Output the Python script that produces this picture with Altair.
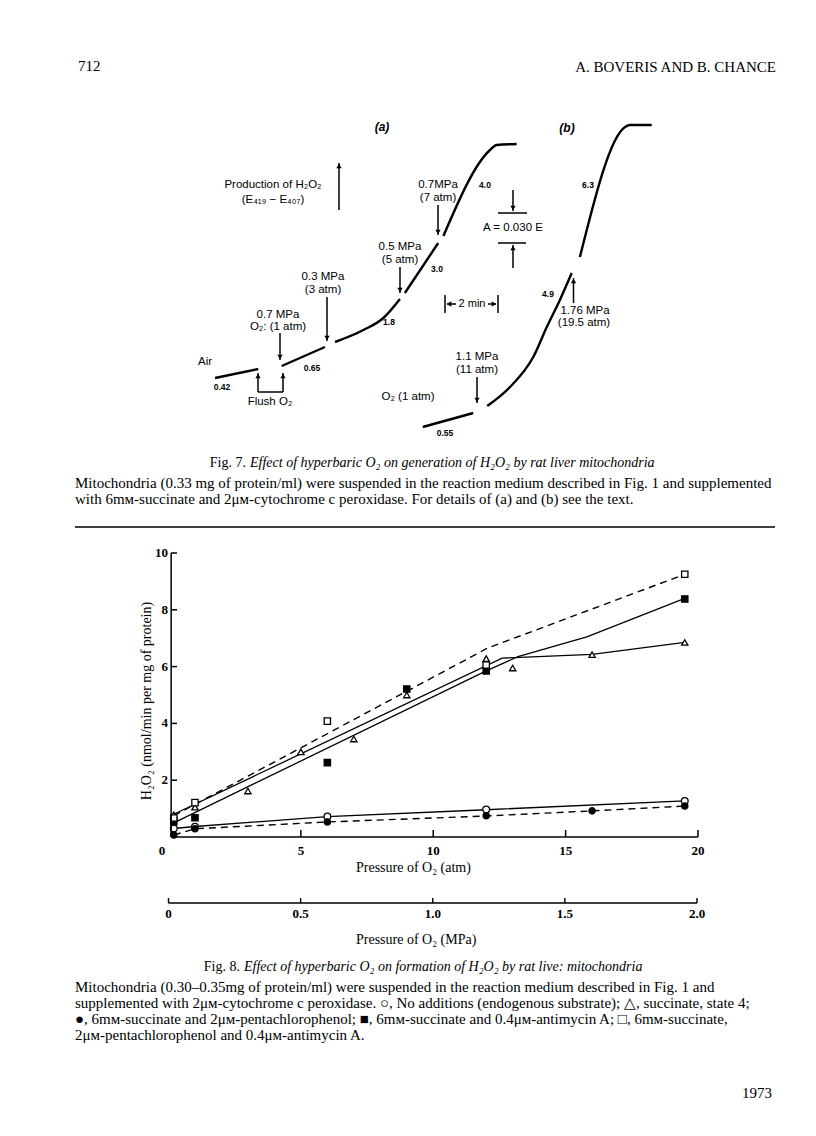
import altair as alt
import pandas as pd

OFF = 8  # page body margin (page px -> chart px)

# ---------------- Fig. 8 data: pressure of O2 (atm) vs H2O2 (nmol/min per mg) -------------
open_circle_x = [0.2, 1.0, 6.0, 12.0, 19.5]
open_circle_y = [0.30, 0.36, 0.72, 0.97, 1.27]
filled_circle_x = [0.2, 1.0, 6.0, 12.0, 16.0, 19.5]
filled_circle_y = [0.07, 0.29, 0.53, 0.75, 0.92, 1.09]
triangle_x = [0.2, 1.0, 3.0, 5.0, 7.0, 9.0, 12.0, 13.0, 16.0, 19.5]
triangle_y = [0.78, 1.05, 1.62, 3.00, 3.45, 5.00, 6.28, 5.95, 6.42, 6.85]
filled_square_x = [0.2, 1.0, 6.0, 9.0, 12.0, 19.5]
filled_square_y = [0.54, 0.68, 2.62, 5.21, 5.85, 8.38]
open_square_x = [0.2, 1.0, 6.0, 12.0, 19.5]
open_square_y = [0.67, 1.21, 4.08, 6.06, 9.25]

# drawn (hand-fitted) lines
line_open_circle_x = [0.2, 1.0, 6.0, 12.0, 19.5]
line_open_circle_y = [0.30, 0.37, 0.72, 0.96, 1.27]
line_filled_circle_x = [0.2, 1.0, 6.0, 12.0, 16.0, 19.5]
line_filled_circle_y = [0.07, 0.29, 0.53, 0.74, 0.92, 1.09]
line_triangle_x = [0.2, 12.6, 16.0, 19.5]
line_triangle_y = [0.80, 6.30, 6.43, 6.85]
line_filled_square_x = [0.2, 12.0, 13.2, 15.8, 17.7, 19.5]
line_filled_square_y = [0.50, 5.85, 6.35, 7.05, 7.74, 8.40]
line_open_square_x = [0.2, 12.05, 19.5]
line_open_square_y = [0.75, 6.65, 9.25]

atm_ticks = [5, 10, 15, 20]
atm_labels = ["5", "10", "15", "20"]
rate_ticks = [2, 4, 6, 8, 10]
rate_labels = ["2", "4", "6", "8", "10"]
mpa_ticks = [0, 0.5, 1.0, 1.5, 2.0]
mpa_labels = ["0", "0.5", "1.0", "1.5", "2.0"]

# ---------------- Fig. 7 traces: time (min) vs E419-E407 (relative) -------------
trace_a1_t = [0.70, 2.71]
trace_a1_e = [0.062, 0.071]
trace_a2_t = [3.80, 5.81]
trace_a2_e = [0.074, 0.093]
trace_a3_t = [6.28, 7.60, 8.53, 9.30]
trace_a3_e = [0.098, 0.110, 0.122, 0.141]
trace_a4_t = [9.53, 11.08]
trace_a4_e = [0.147, 0.197]
trace_a5_t = [11.32, 13.49, 13.80, 14.73]
trace_a5_e = [0.204, 0.290, 0.295, 0.296]
trace_b1_t = [10.36, 12.71]
trace_b1_e = [0.013, 0.027]
trace_b2_t = [13.36, 14.42, 15.50, 16.13, 16.74, 17.29]
trace_b2_e = [0.034, 0.053, 0.083, 0.113, 0.140, 0.167]
trace_b3_t = [17.67, 19.77, 20.00, 21.01]
trace_b3_e = [0.183, 0.313, 0.315, 0.315]

# ---------------- scales (explicit pixel ranges place each figure on the page) -------------
X8 = alt.Scale(domain=[0, 20], range=[168.5 - OFF, 698 - OFF])
Y8 = alt.Scale(domain=[0, 10], range=[837 - OFF, 553 - OFF])
XM = alt.Scale(domain=[0, 2], range=[168.5 - OFF, 697 - OFF])
X7 = alt.Scale(domain=[0, 30], range=[200 - OFF, 200 + 21.5 * 30 - OFF])
Y7 = alt.Scale(domain=[0, 0.35], range=[440 - OFF, 440 - 350 - OFF])

NOSC = dict(scale=None, axis=None)


def series_df(items, xname, yname):
    rows = []
    for name, xs, ys in items:
        for i, (a, b) in enumerate(zip(xs, ys)):
            rows.append({"s": name, "i": i, xname: a, yname: b})
    return pd.DataFrame(rows)


layers = []

# ---- Fig. 8 lines
solid_df = series_df([
    ("oc", line_open_circle_x, line_open_circle_y),
    ("tr", line_triangle_x, line_triangle_y),
    ("fs", line_filled_square_x, line_filled_square_y),
], "p", "r")
dash_df = series_df([
    ("fc", line_filled_circle_x, line_filled_circle_y),
    ("os", line_open_square_x, line_open_square_y),
], "p", "r")
layers.append(alt.Chart(solid_df).mark_line(color="black", strokeWidth=1.3).encode(
    x=alt.X("p:Q", scale=X8, axis=None), y=alt.Y("r:Q", scale=Y8, axis=None),
    detail="s:N", order="i:Q"))
layers.append(alt.Chart(dash_df).mark_line(color="black", strokeWidth=1.4, strokeDash=[7, 5]).encode(
    x=alt.X("p:Q", scale=X8, axis=None), y=alt.Y("r:Q", scale=Y8, axis=None),
    detail="s:N", order="i:Q"))


def markers(xs, ys, shape, fill, size):
    df = pd.DataFrame({"p": xs, "r": ys})
    return alt.Chart(df).mark_point(shape=shape, filled=True, fill=fill, stroke="black",
                                    strokeWidth=1.3, size=size, opacity=1).encode(
        x=alt.X("p:Q", scale=X8, axis=None), y=alt.Y("r:Q", scale=Y8, axis=None))


layers.append(markers(open_circle_x, open_circle_y, "circle", "white", 45))
layers.append(markers(filled_circle_x, filled_circle_y, "circle", "black", 40))
layers.append(markers(triangle_x, triangle_y, "triangle-up", "white", 40))
layers.append(markers(filled_square_x, filled_square_y, "square", "black", 40))
layers.append(markers(open_square_x, open_square_y, "square", "white", 40))

# ---- Fig. 8 axes (drawn inward, like the original)
axis_df = pd.DataFrame({"p": [0.1, 0.1], "p2": [0.1, 20.0], "r": [0.0, 0.0], "r2": [10.0, 0.0]})
layers.append(alt.Chart(axis_df).mark_rule(color="black", strokeWidth=1.5).encode(
    x=alt.X("p:Q", scale=X8, axis=None), x2="p2:Q",
    y=alt.Y("r:Q", scale=Y8, axis=None), y2="r2:Q"))
layers.append(alt.Chart(pd.DataFrame({"p": atm_ticks})).mark_rule(color="black", strokeWidth=1.5).encode(
    x=alt.X("p:Q", scale=X8, axis=None), y=alt.value(837 - OFF), y2=alt.value(830 - OFF)))
layers.append(alt.Chart(pd.DataFrame({"r": rate_ticks})).mark_rule(color="black", strokeWidth=1.5).encode(
    y=alt.Y("r:Q", scale=Y8, axis=None), x=alt.value(171 - OFF), x2=alt.value(177 - OFF)))
layers.append(alt.Chart(pd.DataFrame({"p": atm_ticks, "t": atm_labels})).mark_text(
    font="Liberation Serif", fontSize=13, fontWeight="bold", baseline="middle").encode(
    x=alt.X("p:Q", scale=X8, axis=None), y=alt.value(851 - OFF), text="t:N"))
layers.append(alt.Chart(pd.DataFrame({"r": rate_ticks, "t": rate_labels})).mark_text(
    font="Liberation Serif", fontSize=13, fontWeight="bold", baseline="middle", align="right").encode(
    y=alt.Y("r:Q", scale=Y8, axis=None), x=alt.value(168 - OFF), text="t:N"))

# ---- MPa axis
layers.append(alt.Chart(pd.DataFrame({"m": [0.0], "m2": [2.0]})).mark_rule(color="black", strokeWidth=1.4).encode(
    x=alt.X("m:Q", scale=XM, axis=None), x2="m2:Q", y=alt.value(903 - OFF)))
layers.append(alt.Chart(pd.DataFrame({"m": mpa_ticks})).mark_rule(color="black", strokeWidth=1.4).encode(
    x=alt.X("m:Q", scale=XM, axis=None), y=alt.value(903 - OFF), y2=alt.value(898 - OFF)))
layers.append(alt.Chart(pd.DataFrame({"m": mpa_ticks, "t": mpa_labels})).mark_text(
    font="Liberation Serif", fontSize=13, fontWeight="bold", baseline="middle").encode(
    x=alt.X("m:Q", scale=XM, axis=None), y=alt.value(914 - OFF), text="t:N"))

# ---- Fig. 7 traces
trace_df = series_df([
    ("a1", trace_a1_t, trace_a1_e), ("a2", trace_a2_t, trace_a2_e), ("a3", trace_a3_t, trace_a3_e),
    ("a4", trace_a4_t, trace_a4_e), ("a5", trace_a5_t, trace_a5_e), ("b1", trace_b1_t, trace_b1_e),
    ("b2", trace_b2_t, trace_b2_e), ("b3", trace_b3_t, trace_b3_e),
], "t", "e")
layers.append(alt.Chart(trace_df).mark_line(color="black", strokeWidth=2.4, interpolate="monotone").encode(
    x=alt.X("t:Q", scale=X7, axis=None), y=alt.Y("e:Q", scale=Y7, axis=None),
    detail="s:N", order="i:Q"))

# ---- Fig. 7 annotation arrows (page pixel positions)
down_arrows = [(438, 205, 235), (400, 267, 293), (327, 297, 341), (280, 333, 360),
               (477, 377, 403), (513, 190, 211)]
up_arrows = [(339, 210, 163), (258, 392, 373), (283, 392, 373), (573.5, 303, 278), (513, 268, 245)]
hlines = [(392, 258, 283), (213, 498, 527), (243, 498, 526), (304, 447, 456), (304, 488, 496)]
vlines = [(445, 295, 313), (498, 295, 313)]

seg_rows = []
for x, a, b in down_arrows + up_arrows:
    seg_rows.append({"x": x - OFF, "x2": x - OFF, "y": a - OFF, "y2": b - OFF})
for y, a, b in hlines:
    seg_rows.append({"x": a - OFF, "x2": b - OFF, "y": y - OFF, "y2": y - OFF})
for x, a, b in vlines:
    seg_rows.append({"x": x - OFF, "x2": x - OFF, "y": a - OFF, "y2": b - OFF})
layers.append(alt.Chart(pd.DataFrame(seg_rows)).mark_rule(color="black", strokeWidth=1.5).encode(
    x=alt.X("x:Q", **NOSC), x2="x2:Q", y=alt.Y("y:Q", **NOSC), y2="y2:Q"))

head_rows = ([{"x": x - OFF, "y": b - OFF - 3, "shape": "triangle-down"} for x, a, b in down_arrows] +
             [{"x": x - OFF, "y": b - OFF + 3, "shape": "triangle-up"} for x, a, b in up_arrows] +
             [{"x": 449 - OFF, "y": 304 - OFF, "shape": "triangle-left"},
              {"x": 494 - OFF, "y": 304 - OFF, "shape": "triangle-right"}])
layers.append(alt.Chart(pd.DataFrame(head_rows)).mark_point(filled=True, color="black", size=28, opacity=1).encode(
    x=alt.X("x:Q", **NOSC), y=alt.Y("y:Q", **NOSC),
    shape=alt.Shape("shape:N", scale=None)))


def text_layer(items, **kw):
    df = pd.DataFrame([{"x": x - OFF, "y": y - OFF, "t": t} for x, y, t in items])
    props = dict(color="black", baseline="middle")
    props.update(kw)
    return alt.Chart(df).mark_text(**props).encode(
        x=alt.X("x:Q", **NOSC), y=alt.Y("y:Q", **NOSC), text="t:N")


fig7_labels = [
    (273, 185, "Production of H₂O₂"), (273, 200, "(E₄₁₉ − E₄₀₇)"),
    (438, 185, "0.7MPa"), (438, 198, "(7 atm)"),
    (400, 247, "0.5 MPa"), (400, 260, "(5 atm)"),
    (323, 277, "0.3 MPa"), (323, 290, "(3 atm)"),
    (278, 315, "0.7 MPa"), (278, 327, "O₂: (1 atm)"),
    (205, 362, "Air"), (270, 402, "Flush O₂"), (408, 397, "O₂ (1 atm)"),
    (477, 357, "1.1 MPa"), (477, 370, "(11 atm)"),
    (585, 311, "1.76 MPa"), (584, 323, "(19.5 atm)"),
    (513, 228, "A = 0.030 E"),
]
fig7_numbers = [
    (485, 185, "4.0"), (437, 269, "3.0"), (389, 322, "1.8"), (222, 387, "0.42"),
    (312, 368, "0.65"), (445, 433, "0.55"), (548, 294, "4.9"), (588, 185, "6.3"),
]
layers.append(text_layer(fig7_labels, font="Liberation Sans", fontSize=11.5))
layers.append(text_layer([(472, 304, "2 min")], font="Liberation Sans", fontSize=11))
layers.append(text_layer(fig7_numbers, font="Liberation Sans", fontSize=8.5, fontWeight="bold"))
layers.append(text_layer([(382, 127, "(a)"), (567, 128, "(b)")], font="Liberation Sans",
                         fontSize=12, fontStyle="italic", fontWeight="bold"))

# ---- page text
layers.append(text_layer([(78, 66, "712")], font="Liberation Serif", fontSize=15, align="left"))
layers.append(text_layer([(776, 67, "A. BOVERIS AND B. CHANCE"), (772, 1093, "1973")],
                         font="Liberation Serif", fontSize=15, align="right"))

body_lines = [
    (75, 483, "Mitochondria (0.33 mg of protein/ml) were suspended in the reaction medium described in Fig. 1 and supplemented"),
    (75, 499, "with 6mᴍ-succinate and 2μᴍ-cytochrome c peroxidase. For details of (a) and (b) see the text."),
    (75, 987, "Mitochondria (0.30–0.35mg of protein/ml) were suspended in the reaction medium described in Fig. 1 and"),
    (75, 1003, "supplemented with 2μᴍ-cytochrome c peroxidase. ○, No additions (endogenous substrate); △, succinate, state 4;"),
    (75, 1019, "●, 6mᴍ-succinate and 2μᴍ-pentachlorophenol; ■, 6mᴍ-succinate and 0.4μᴍ-antimycin A; □, 6mᴍ-succinate,"),
    (75, 1035, "2μᴍ-pentachlorophenol and 0.4μᴍ-antimycin A."),
]
layers.append(text_layer(body_lines, font="Liberation Serif", fontSize=15, align="left"))

layers.append(text_layer([(246, 463, "Fig. 7."), (240, 967, "Fig. 8.")],
                         font="Liberation Serif", fontSize=14, align="right"))
layers.append(text_layer([
    (250, 463, "Effect of hyperbaric O₂ on generation of H₂O₂ by rat liver mitochondria"),
    (244, 967, "Effect of hyperbaric O₂ on formation of H₂O₂ by rat live: mitochondria"),
], font="Liberation Serif", fontSize=14, fontStyle="italic", align="left"))

layers.append(text_layer([(356, 868, "Pressure of O₂ (atm)"), (356, 940, "Pressure of O₂ (MPa)")],
                         font="Liberation Serif", fontSize=14, align="left"))
layers.append(text_layer([(162, 851, "0")], font="Liberation Serif", fontSize=13, fontWeight="bold"))
layers.append(text_layer([(147, 701, "H₂O₂ (nmol/min per mg of protein)")],
                         font="Liberation Serif", fontSize=14, angle=270))

# horizontal separator rule
layers.append(alt.Chart(pd.DataFrame({"x": [75 - OFF], "x2": [775 - OFF], "y": [527 - OFF]})).mark_rule(
    color="black", strokeWidth=1.5).encode(x=alt.X("x:Q", **NOSC), x2="x2:Q", y=alt.Y("y:Q", **NOSC)))

chart = alt.layer(*layers).resolve_scale(x="independent", y="independent").properties(
    width=800, height=1120, padding=0, autosize=alt.AutoSizeParams(type="none")
).configure_view(stroke=None)

chart.save("out.html", embed_options={"renderer": "svg", "actions": False})
